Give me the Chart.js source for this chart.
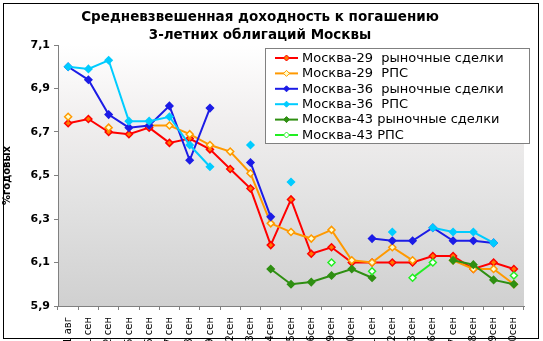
<!DOCTYPE html>
<html lang="ru">
<head>
<meta charset="UTF-8">
<title>Доходность облигаций Москвы</title>
<script src="https://cdn.jsdelivr.net/npm/chart.js@4"></script>
<style>
  html, body { margin: 0; padding: 0; background: #fff; overflow: hidden; }
</style>
</head>
<body>
<canvas id="yieldChart" width="543" height="360"></canvas>
<script>
// даты торгов
const days = ['31 авг', '1 сен', '2 сен', '5 сен', '6 сен', '7 сен', '8 сен', '9 сен',
  '12сен', '13сен', '14сен', '15сен', '16сен', '19сен', '20сен', '21 сен', '22сен',
  '23сен', '26сен', '27 сен', '28сен', '29сен', '30сен'];

const seriesNames = ['Москва-29  рыночные сделки', 'Москва-29  РПС', 'Москва-36  рыночные сделки',
  'Москва-36  РПС', 'Москва-43 рыночные сделки', 'Москва-43 РПС'];

const m29market = [6.74, 6.76, 6.70, 6.69, 6.72, 6.65, 6.67, 6.62, 6.53, 6.44, 6.18, 6.39,
  6.14, 6.17, 6.10, 6.10, 6.10, 6.10, 6.13, 6.13, 6.07, 6.10, 6.07];
const m29rps = [6.77, null, 6.72, null, 6.73, 6.73, 6.69, 6.64, 6.61, 6.51, 6.28, 6.24,
  6.21, 6.25, 6.11, 6.10, 6.17, 6.11, null, 6.11, 6.07, 6.07, 6.00];
const m36market = [7.00, 6.94, 6.78, 6.72, 6.73, 6.82, 6.57, 6.81, null, 6.56, 6.31, null,
  null, null, null, 6.21, 6.20, 6.20, 6.26, 6.20, 6.20, 6.19, null];
const m36rps = [7.00, 6.99, 7.03, 6.75, 6.75, 6.77, 6.64, 6.54, null, 6.64, null, 6.47,
  null, null, null, null, 6.24, null, 6.26, 6.24, 6.24, 6.19, null];
const m43market = [null, null, null, null, null, null, null, null, null, null, 6.07, 6.00,
  6.01, 6.04, 6.07, 6.03, null, null, null, 6.11, 6.09, 6.02, 6.00];
const m43rps = [null, null, null, null, null, null, null, null, null, null, null, null,
  null, 6.10, null, 6.06, null, 6.03, 6.10, null, null, null, 6.04];

const yMin = 5.9, yMax = 7.1, yStep = 0.2;

const lineColors = ['#ff0000', '#ff9900', '#1c1ce6', '#00ccff', '#2f8f12', '#22ee22'];
const markerFills = ['#ff7a00', '#ffffcc', '#1c1ce6', '#00ccff', '#2f8f12', '#ffffff'];

const allSeries = [m29market, m29rps, m36market, m36rps, m43market, m43rps];

const datasets = allSeries.map((vals, i) => ({
  label: seriesNames[i],
  data: vals,
  borderColor: lineColors[i],
  backgroundColor: markerFills[i],
  borderWidth: 2,
  pointStyle: 'rectRot',
  pointRadius: 3.5,
  pointBorderWidth: 1.5,
  pointBorderColor: lineColors[i],
  pointBackgroundColor: markerFills[i],
  spanGaps: false,
  tension: 0,
  order: 6 - i
}));

// фон, рамка, заголовок и легенда рисуются вручную
const decorPlugin = {
  id: 'decor',
  beforeDraw(chart) {
    const ctx = chart.ctx;
    const a = chart.chartArea;
    ctx.save();
    ctx.fillStyle = '#ffffff';
    ctx.fillRect(0, 0, chart.width, chart.height);
    const g = ctx.createLinearGradient(0, a.top, 0, a.bottom);
    g.addColorStop(0, '#ffffff');
    g.addColorStop(0.3, '#f0eeee');
    g.addColorStop(0.6, '#e2e2e2');
    g.addColorStop(1, '#d0d0d0');
    ctx.fillStyle = g;
    ctx.fillRect(a.left, a.top, a.right - a.left, a.bottom - a.top);
    ctx.restore();
  },
  afterDraw(chart) {
    const ctx = chart.ctx;
    ctx.save();
    // заголовок
    ctx.fillStyle = '#000';
    ctx.font = 'bold 13.5px "DejaVu Sans"';
    ctx.textAlign = 'center';
    ctx.textBaseline = 'middle';
    ctx.fillText('Средневзвешенная доходность к погашению', 260, 17);
    ctx.fillText('3-летних облигаций Москвы', 260, 35);

    // легенда
    ctx.fillStyle = '#ffffff';
    ctx.fillRect(265, 48, 264, 95);
    ctx.strokeStyle = '#808080';
    ctx.lineWidth = 1;
    ctx.strokeRect(265.5, 48.5, 264, 95);
    ctx.font = '13px "DejaVu Sans"';
    ctx.textAlign = 'left';
    chart.data.datasets.forEach((ds, i) => {
      const y = 58 + i * 15.4;
      ctx.strokeStyle = ds.borderColor;
      ctx.lineWidth = 2;
      ctx.beginPath();
      ctx.moveTo(275, y);
      ctx.lineTo(298, y);
      ctx.stroke();
      ctx.beginPath();
      ctx.moveTo(286.5, y - 3);
      ctx.lineTo(289.5, y);
      ctx.lineTo(286.5, y + 3);
      ctx.lineTo(283.5, y);
      ctx.closePath();
      ctx.fillStyle = ds.pointBackgroundColor;
      ctx.fill();
      ctx.lineWidth = 1;
      ctx.stroke();
      ctx.fillStyle = '#000';
      ctx.fillText(ds.label, 302, y + 0.5);
    });

    // рамка
    ctx.strokeStyle = '#000';
    ctx.lineWidth = 1;
    ctx.strokeRect(3.5, 3.5, 535, 335);
    ctx.restore();
  }
};

const ctx = document.getElementById('yieldChart').getContext('2d');
const chart = new Chart(ctx, {
  type: 'line',
  data: { labels: days, datasets: datasets },
  plugins: [decorPlugin],
  options: {
    responsive: false,
    animation: false,
    layout: { padding: { left: 0, top: 45, right: 19, bottom: 0 } },
    plugins: {
      legend: { display: false },
      title: { display: false },
      tooltip: { enabled: false }
    },
    scales: {
      x: {
        offset: true,
        afterFit(s) { s.height = 54; },
        grid: { display: true, drawOnChartArea: false, offset: true, tickLength: 4, color: '#808080' },
        border: { color: '#808080' },
        ticks: {
          autoSkip: false, maxRotation: 90, minRotation: 90, padding: 7,
          color: '#000', font: { family: 'DejaVu Sans', size: 10 }
        }
      },
      y: {
        min: yMin,
        max: yMax,
        afterFit(s) { s.width = 58; },
        grid: { display: true, drawOnChartArea: false, tickLength: 4, color: '#808080' },
        border: { color: '#808080' },
        ticks: {
          stepSize: yStep, padding: 4, color: '#000',
          font: { family: 'DejaVu Sans', size: 11, weight: 'bold' },
          callback: v => v.toFixed(1).replace('.', ',')
        },
        title: {
          display: true, text: '%годовых', color: '#000', padding: 1,
          font: { family: 'DejaVu Sans', size: 10, weight: 'bold' }
        }
      }
    }
  }
});
</script>
</body>
</html>
